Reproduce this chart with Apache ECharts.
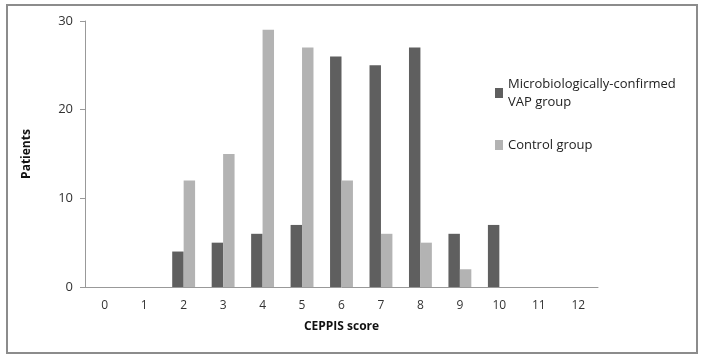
<!DOCTYPE html>
<html><head><meta charset="utf-8">
<script src="https://cdn.jsdelivr.net/npm/echarts@6/dist/echarts.min.js"></script>
<style>html,body{margin:0;padding:0;background:#fff}#c{width:703px;height:360px}</style>
</head><body><div id="c"></div>
<script>
var categories = ['0','1','2','3','4','5','6','7','8','9','10','11','12'];
var vapGroup = [0,0,4,5,6,7,26,25,27,6,7,0,0];
var controlGroup = [0,0,12,15,29,27,12,6,5,2,0,0,0];
var yTicks = [0,10,20,30];
var seriesNames = ['Microbiologically-confirmed\nVAP group','Control group'];

var font = 'Open Sans, Noto Sans, sans-serif';
var chart = echarts.init(document.getElementById('c'), null, {renderer:'canvas'});
chart.setOption({
  animation:false,
  backgroundColor:'#fff',
  graphic:[{type:'rect',shape:{x:7,y:5,width:690,height:348},style:{fill:'none',stroke:'#8c8c8c',lineWidth:2},z:-1}],
  grid:{left:85,right:105,top:21,bottom:73},
  legend:{
    orient:'vertical',left:490,top:70,itemWidth:8,itemHeight:10,itemGap:25,itemSpacing:4,
    data:seriesNames,
    textStyle:{fontFamily:font,fontSize:13,color:'#222',lineHeight:18,width:180},
    icon:'rect'
  },
  xAxis:{
    type:'category',data:categories,
    name:'CEPPIS score',nameLocation:'middle',nameGap:34,
    nameTextStyle:{fontFamily:font,fontSize:12,fontWeight:'bold',color:'#111'},
    axisLine:{lineStyle:{color:'#999'}},
    axisTick:{show:false},
    axisLabel:{fontFamily:font,fontSize:12,color:'#333',margin:13}
  },
  yAxis:{
    type:'value',min:0,max:30,interval:10,
    name:'Patients',nameLocation:'middle',nameGap:52,nameRotate:90,
    nameTextStyle:{fontFamily:font,fontSize:12,fontWeight:'bold',color:'#111'},
    axisLine:{show:true,lineStyle:{color:'#999'}},
    axisTick:{show:true,length:5,lineStyle:{color:'#999'}},
    axisLabel:{fontFamily:font,fontSize:13,color:'#333',margin:12},
    splitLine:{show:false}
  },
  series:[
    {name:seriesNames[0],type:'bar',data:vapGroup,itemStyle:{color:'#5f5f5f'},barGap:'0%',barCategoryGap:'42%'},
    {name:seriesNames[1],type:'bar',data:controlGroup,itemStyle:{color:'#b3b3b3'},barGap:'0%',barCategoryGap:'42%'}
  ]
});
</script></body></html>
